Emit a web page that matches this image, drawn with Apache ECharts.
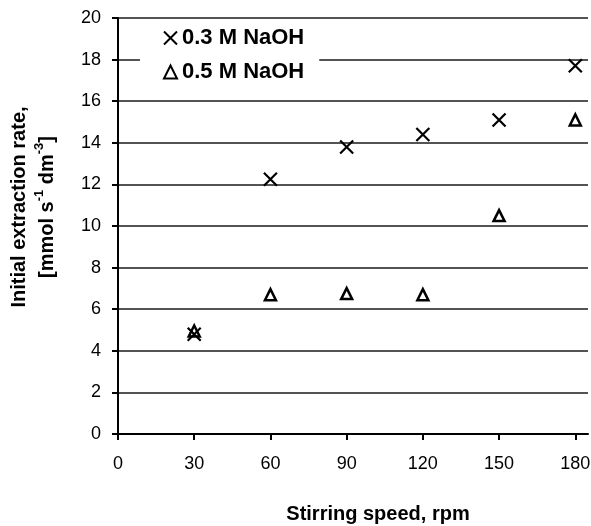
<!DOCTYPE html>
<html>
<head>
<meta charset="utf-8">
<script src="https://cdn.jsdelivr.net/npm/echarts@6/dist/echarts.min.js"></script>
<style>
html,body{margin:0;padding:0;background:#fff;}
#chart{width:591px;height:526px;}
</style>
</head>
<body>
<div id="chart"></div>
<script>
// ---- data ----
const speeds = [30, 60, 90, 120, 150, 180];
const naoh03 = [4.8, 12.25, 13.8, 14.4, 15.1, 17.7];
const naoh05 = [4.95, 6.7, 6.75, 6.7, 10.5, 15.1];
const xTicks = [0, 30, 60, 90, 120, 150, 180];
const yTicks = [0, 2, 4, 6, 8, 10, 12, 14, 16, 18, 20];
const seriesNames = ['0.3 M NaOH', '0.5 M NaOH'];
const xTitle = 'Stirring speed, rpm';

const FONT = '"Liberation Sans", Arial, sans-serif';
const crossPath = 'path://M0,0L10,10M10,0L0,10';

function zip(xs, ys) { return xs.map((x, i) => [x, ys[i]]); }

const chart = echarts.init(document.getElementById('chart'), null, {renderer: 'canvas'});
chart.setOption({
  backgroundColor: '#fff',
  animation: false,
  grid: {left: 118, right: 3, top: 18, bottom: 92, containLabel: false, outerBoundsMode: 'none'},
  legend: {
    orient: 'vertical',
    left: 140,
    top: 21,
    padding: [6, 15, 8, 23],
    backgroundColor: '#fff',
    itemWidth: 13,
    itemHeight: 13,
    itemGap: 12,
    textStyle: {fontSize: 22, fontWeight: 'bold', color: '#000', fontFamily: FONT},
    data: seriesNames,
    z: 10
  },
  xAxis: {
    type: 'value',
    min: 0,
    max: 185,
    interval: 30,
    name: xTitle,
    nameLocation: 'middle',
    nameGap: 70,
    nameTextStyle: {fontSize: 20, fontWeight: 'bold', color: '#000', fontFamily: FONT, padding: [0, 0, 0, 50]},
    axisLine: {show: true, lineStyle: {color: '#000', width: 2}},
    axisTick: {show: true, inside: false, length: 6, lineStyle: {color: '#000', width: 2}, customValues: xTicks},
    axisLabel: {fontSize: 18, color: '#000', fontFamily: FONT, margin: 21, customValues: xTicks},
    splitLine: {show: false}
  },
  yAxis: {
    type: 'value',
    min: 0,
    max: 20,
    interval: 2,
    name: 'Initial extraction rate,\n[mmol s{sup|-1} dm{sup|-3}]',
    nameLocation: 'middle',
    nameGap: 57,
    nameRotate: 90,
    nameTextStyle: {
      fontSize: 20, fontWeight: 'bold', color: '#000', fontFamily: FONT, lineHeight: 28,
      padding: [0, 0, 0, 38],
      rich: {
        sup: {fontSize: 13, fontWeight: 'bold', color: '#000', fontFamily: FONT, verticalAlign: 'top', lineHeight: 16}
      }
    },
    axisLine: {show: true, lineStyle: {color: '#000', width: 2}},
    axisTick: {show: true, inside: false, length: 6, lineStyle: {color: '#000', width: 2}},
    axisLabel: {fontSize: 18, color: '#000', fontFamily: FONT, margin: 17},
    splitLine: {show: true, lineStyle: {color: '#1a1a1a', width: 1.5}}
  },
  series: [
    {
      name: seriesNames[0],
      type: 'scatter',
      symbol: crossPath,
      symbolSize: 13,
      itemStyle: {color: '#000', borderColor: '#000', borderWidth: 2.2, opacity: 1},
      data: zip(speeds, naoh03),
      z: 3
    },
    {
      name: seriesNames[1],
      type: 'scatter',
      symbol: 'triangle',
      symbolSize: 11,
      itemStyle: {color: 'rgba(0,0,0,0)', borderColor: '#000', borderWidth: 2.5, opacity: 1},
      data: zip(speeds, naoh05),
      z: 3
    }
  ]
});
</script>
</body>
</html>
